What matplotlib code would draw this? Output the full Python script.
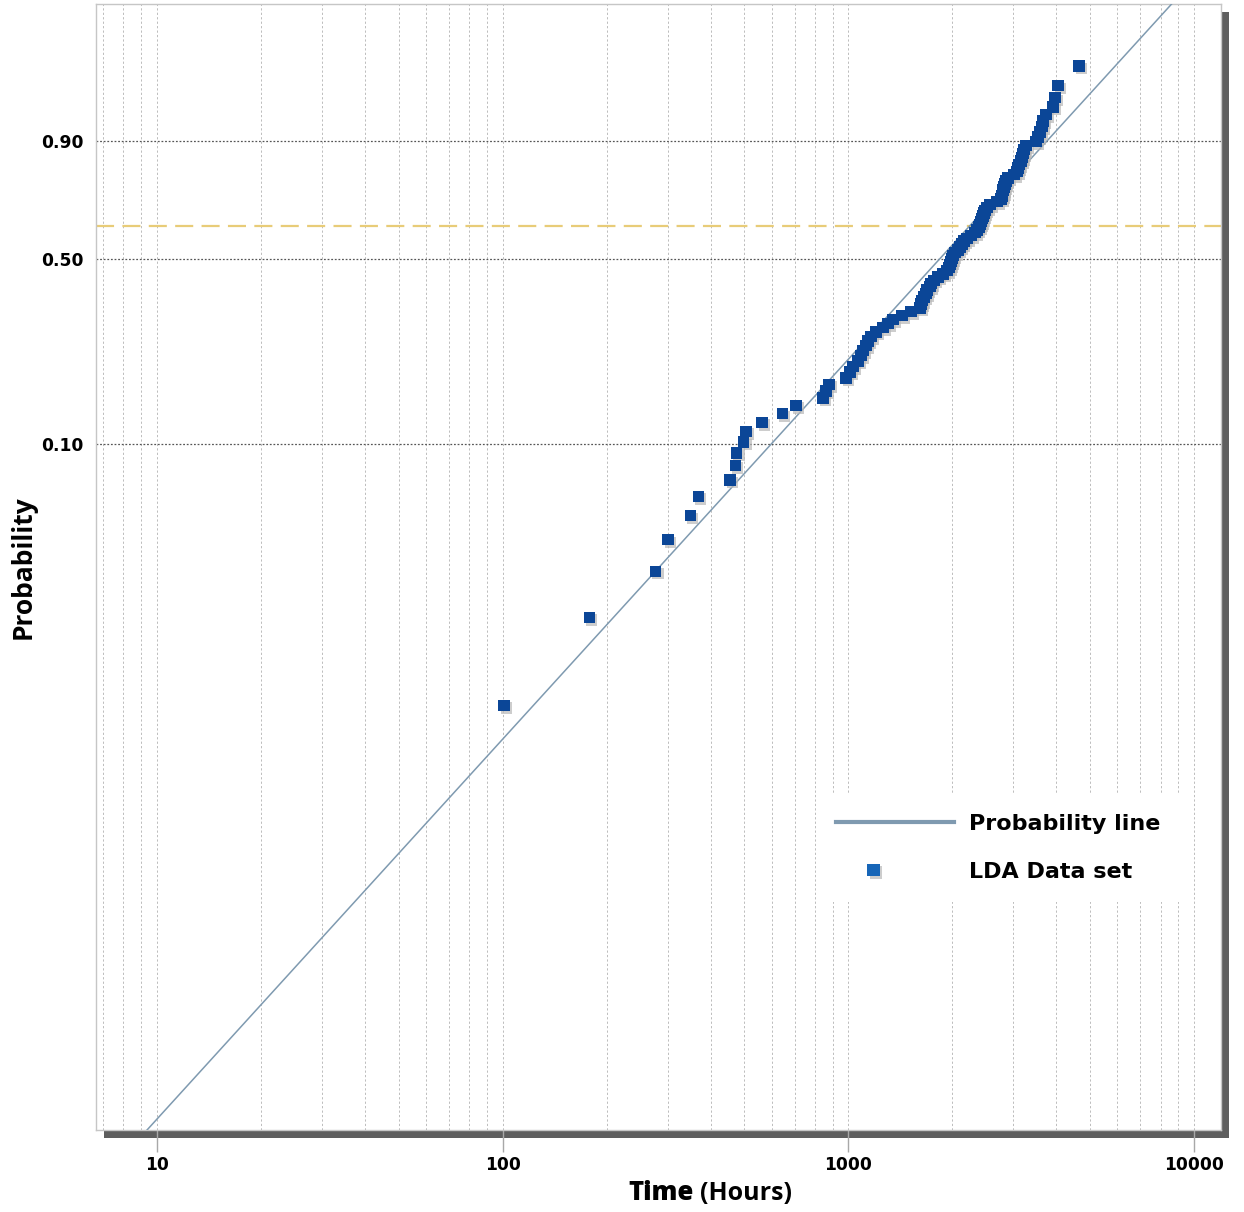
import numpy as np
import matplotlib
matplotlib.use("Agg")
import matplotlib.pyplot as plt
from matplotlib import patheffects as pe
from matplotlib.lines import Line2D
from matplotlib.legend_handler import HandlerLine2DCompound
from matplotlib.ticker import (LogLocator, NullLocator, FixedLocator,
                               FixedFormatter, NullFormatter, FuncFormatter)

plt.rcParams['lines.scale_dashes'] = False

# ---------------- data ----------------
times = [101, 178, 277, 301, 349, 368, 455, 471, 475, 497,
         506, 563, 644, 705, 844, 861, 879, 984, 1011, 1031,
         1066, 1088, 1102, 1124, 1139, 1163, 1202, 1260, 1302, 1346,
         1429, 1518, 1611, 1622, 1633, 1655, 1677, 1688, 1722, 1734,
         1769, 1816, 1878, 1929, 1954, 1967, 1981, 1994, 2007, 2034,
         2075, 2103, 2131, 2160, 2203, 2262, 2323, 2355, 2386, 2402,
         2418, 2435, 2451, 2467, 2484, 2517, 2568, 2691, 2763, 2782,
         2790, 2800, 2819, 2838, 2857, 2895, 3013, 3074, 3094, 3115,
         3157, 3178, 3199, 3221, 3264, 3489, 3536, 3583, 3631, 3655,
         3729, 3906, 3958, 4038, 4645]
probs = [0.0073, 0.0178, 0.0283, 0.0388, 0.0493, 0.0597, 0.0702, 0.0807, 0.0912, 0.1017,
         0.1122, 0.1226, 0.1331, 0.1436, 0.1541, 0.1646, 0.1751, 0.1855, 0.1960, 0.2065,
         0.2170, 0.2275, 0.2379, 0.2484, 0.2589, 0.2694, 0.2799, 0.2904, 0.3008, 0.3113,
         0.3218, 0.3323, 0.3428, 0.3532, 0.3637, 0.3742, 0.3847, 0.3952, 0.4057, 0.4161,
         0.4266, 0.4371, 0.4476, 0.4581, 0.4686, 0.4790, 0.4895, 0.5000, 0.5105, 0.5210,
         0.5314, 0.5419, 0.5524, 0.5629, 0.5734, 0.5839, 0.5943, 0.6048, 0.6153, 0.6258,
         0.6363, 0.6468, 0.6572, 0.6677, 0.6782, 0.6887, 0.6992, 0.7096, 0.7201, 0.7306,
         0.7411, 0.7516, 0.7621, 0.7725, 0.7830, 0.7935, 0.8040, 0.8145, 0.8250, 0.8354,
         0.8459, 0.8564, 0.8669, 0.8774, 0.8878, 0.8983, 0.9088, 0.9193, 0.9298, 0.9403,
         0.9507, 0.9612, 0.9717, 0.9822, 0.9927]

# fitted Weibull probability line (shape, scale) and its time span
beta = 1.68
eta = 2290.0
line_span = [9.0, 9000.0]

y_ticks = [0.10, 0.50, 0.90]
y_tick_labels = ['0.10', '0.50', '0.90']
ref_level = 0.62
series_names = ['Probability line', 'LDA Data set']

# ---------------- figure ----------------
W, H = 1244, 1212
fig = plt.figure(figsize=(W / 100, H / 100), dpi=100)
L, R, T, B = 96, 1221, 4, 1130

# drop shadow of the plot frame (an axes of its own, below the plot)
sh = 8
shax = fig.add_axes([(L + sh) / W, 1 - (B + sh) / H, (R - L) / W, (B - T) / H])
shax.set_facecolor('#5e5e5e')
shax.set_xticks([])
shax.set_yticks([])
for s in shax.spines.values():
    s.set_visible(False)
shax.set_zorder(0)

ax = fig.add_axes([L / W, 1 - B / H, (R - L) / W, (B - T) / H])
ax.set_zorder(1)
ax.set_facecolor('white')


def fwd(F):
    F = np.asarray(F, dtype=float)
    with np.errstate(all='ignore'):
        return np.log(-np.log(1.0 - F))


def inv(w):
    w = np.asarray(w, dtype=float)
    with np.errstate(all='ignore'):
        return 1.0 - np.exp(-np.exp(w))


ax.set_xscale('log')
ax.set_yscale('function', functions=(fwd, inv))
ax.set_xlim(6.663, 11970)
ax.set_ylim(9.71e-5, 0.999905)

line_color = '#7f9ab0'
# probability line
lt = np.array(line_span)
lF = 1.0 - np.exp(-(lt / eta) ** beta)
ax.plot(lt, lF, color=line_color, lw=1.1, zorder=3)

# reference level
ax.axhline(ref_level, color='#e8cc78', lw=1.6, dashes=(13, 6), zorder=2)

# data points with light shadow
shadow = [pe.SimplePatchShadow(offset=(1.8, -1.8), shadow_rgbFace='#b8b8b8', alpha=0.7),
          pe.Normal()]
ax.plot(times, probs, ls='none', marker='s', markersize=8.2, color='#0b4697',
        markeredgewidth=0, zorder=4, path_effects=shadow)

# grid
ax.xaxis.set_major_locator(LogLocator(base=10))
ax.xaxis.set_minor_locator(LogLocator(base=10, subs=np.arange(2, 10)))
ax.xaxis.set_minor_formatter(NullFormatter())
ax.xaxis.set_major_formatter(FuncFormatter(lambda v, p: f'{int(round(v))}'))
ax.yaxis.set_major_locator(FixedLocator(y_ticks))
ax.yaxis.set_major_formatter(FixedFormatter(y_tick_labels))
ax.yaxis.set_minor_locator(NullLocator())

ax.grid(axis='x', which='both', color='#bcbcbc', lw=0.7, dashes=(1.6, 1.6), zorder=1)
ax.grid(axis='y', which='major', color='#555555', lw=0.9, dashes=(1.3, 1.3), zorder=1)
ax.set_axisbelow(True)

for s in ax.spines.values():
    s.set_color('#c6c6c6')
    s.set_linewidth(1.0)

ax.tick_params(axis='x', which='major', direction='out', length=16, width=1,
               color='#a8a8a8', pad=3, labelsize=12.3)
ax.tick_params(axis='x', which='minor', length=0)
ax.tick_params(axis='y', which='both', length=0, pad=9, labelsize=12.3)
for lab in ax.get_xticklabels() + ax.get_yticklabels():
    lab.set_fontweight('bold')
    lab.set_family('DejaVu Sans')

# axis titles
fig.text(23 / W, 1 - 567 / H, 'Probability', rotation=90, ha='center', va='center',
         family='Open Sans', fontweight='bold', fontsize=19)
fig.text(694 / W, 1 - 1200 / H, 'Time', ha='right', va='baseline',
         family='Open Sans', fontweight='heavy', fontsize=18.5)
fig.text(700 / W, 1 - 1200 / H, '(Hours)', ha='left', va='baseline',
         family='Open Sans', fontweight='bold', fontsize=18)


# legend (marker placed left of the handle centre, as in the reference)
class LeftMarkerHandler(HandlerLine2DCompound):
    def get_xdata(self, legend, xdescent, ydescent, width, height, fontsize):
        xdata, xm = super().get_xdata(legend, xdescent, ydescent, width, height, fontsize)
        return xdata, np.array([-xdescent + 0.32 * width])


h1 = Line2D([], [], color=line_color, lw=3)
h2 = Line2D([], [], ls='none', marker='s', markersize=9, color='#1766b8',
            markeredgewidth=0,
            path_effects=[pe.SimplePatchShadow(offset=(1.8, -1.8), shadow_rgbFace='#b8b8b8',
                                               alpha=0.7), pe.Normal()])
leg = ax.legend([h1, h2], series_names, loc='upper left',
                bbox_to_anchor=((816 - L) / (R - L), (B - 794) / (B - T)),
                borderaxespad=0, borderpad=0.9, handlelength=5.3, handletextpad=0.7,
                labelspacing=1.25, frameon=True, fancybox=False, framealpha=1,
                handler_map={h2: LeftMarkerHandler(numpoints=1)},
                prop=dict(family='DejaVu Sans', weight='bold', size=16))
leg.get_frame().set_edgecolor('none')
leg.get_frame().set_facecolor('white')

fig.savefig('out.png', dpi=100)
